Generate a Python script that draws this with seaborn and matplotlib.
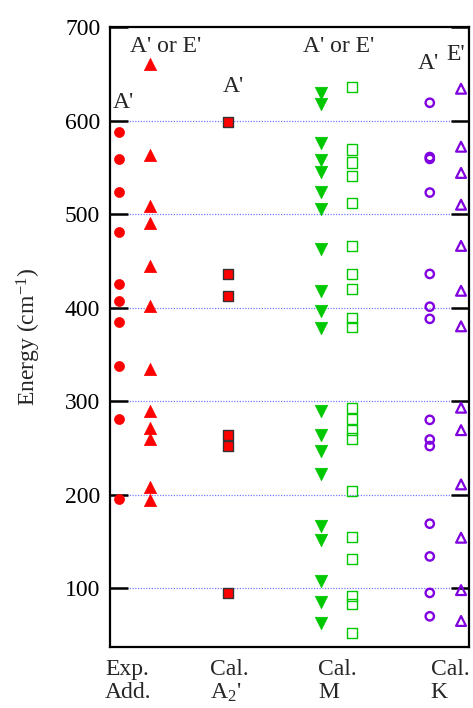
import matplotlib
matplotlib.use("Agg")
import matplotlib.pyplot as plt
import matplotlib.transforms as mtransforms
import seaborn as sns
import pandas as pd

# ---------------- data (energies in cm^-1) ----------------
exp_add_A = [588, 559, 524, 481, 425, 407, 385, 338, 281, 195]
exp_add_AE = [660, 563, 509, 490, 444, 402, 334, 289, 271, 260, 208, 194]
cal_A2_A = [598, 436, 412, 264, 252, 95]
cal_M_tri = [629, 618, 576, 558, 545, 524, 505, 463, 418, 396, 378,
             289, 264, 247, 222, 167, 152, 108, 85, 63]
cal_M_sq = [636, 569, 555, 541, 512, 466, 436, 420, 389, 379,
            293, 281, 269, 260, 204, 155, 131, 92, 83, 52]
cal_K_A = [619, 561, 559, 523, 436, 401, 388, 280, 259, 252, 169, 134, 95, 70]
cal_K_E = [634, 572, 544, 510, 466, 418, 380, 293, 269, 211, 154, 98, 65]

group_labels = ["Exp.\nAdd.", "Cal.\nA$_2$'", "Cal.\nM", "Cal.\nK"]
y_ticks = [100, 200, 300, 400, 500, 600, 700]

# ---------------- style ----------------
sns.set_theme(style="white")
plt.rcParams["font.family"] = ["Liberation Serif", "DejaVu Serif"]
plt.rcParams["mathtext.fontset"] = "custom"
plt.rcParams["mathtext.rm"] = "Liberation Serif"
plt.rcParams["mathtext.it"] = "Liberation Serif:italic"
plt.rcParams["mathtext.bf"] = "Liberation Serif:bold"

RED = "#ff0000"
GREEN = "#00c800"
PURPLE = "#8000e0"

fig = plt.figure(figsize=(4.73, 7.08), dpi=100)
ax = fig.add_axes([110 / 473, 1 - 646.7 / 708, 359.3 / 473, (646.7 - 27) / 708])
ax.set_axisbelow(False)

# column layout (x positions in axis units 0..10)
col_x = [0.26, 1.12, 3.29, 5.87, 6.74, 8.90, 9.77]
label_x = [-0.14, 2.78, 5.79, 8.93]

series = [
    (exp_add_A, dict(marker="o", s=52, color=RED, edgecolor=RED, linewidth=0.5)),
    (exp_add_AE, dict(marker="^", s=78, color=RED, edgecolor=RED, linewidth=0.5)),
    (cal_A2_A, dict(marker="s", s=50, color=RED, edgecolor="#333333", linewidth=1.0)),
    (cal_M_tri, dict(marker="v", s=80, color=GREEN, edgecolor=GREEN, linewidth=0.5)),
    (cal_M_sq, dict(marker="s", s=55, facecolor="none", edgecolor=GREEN, linewidth=1.0)),
    (cal_K_A, dict(marker="o", s=36, facecolor="none", edgecolor=PURPLE, linewidth=1.7)),
    (cal_K_E, dict(marker="^", s=50, facecolor="none", edgecolor=PURPLE, linewidth=1.6)),
]

for xpos, (vals, kw) in zip(col_x, series):
    df = pd.DataFrame({"x": [xpos] * len(vals), "energy": vals})
    sns.scatterplot(data=df, x="x", y="energy", ax=ax, legend=False, zorder=3, **kw)

ax.set_xlim(0, 10)
ax.set_ylim(37.5, 700)

# grid lines
for yv in y_ticks[:-1]:
    ax.axhline(yv, color="#7878ff", linestyle=(0, (1.0, 1.2)), linewidth=0.9, zorder=1)

# ticks
ax.set_yticks(y_ticks)
ax.set_yticklabels([str(v) for v in y_ticks])
ax.tick_params(axis="y", which="both", direction="in", length=13, width=1.8,
               left=True, right=True, labelsize=17, pad=7, colors="black")
ax.set_xticks([])
for sp in ax.spines.values():
    sp.set_color("black")
    sp.set_linewidth(1.6)

ax.set_xlabel("")
ax.set_ylabel("Energy (cm$^{-1}$)", fontsize=17)
ax.yaxis.set_label_coords(-0.186, 0.5)

# group labels below axis
trans = mtransforms.blended_transform_factory(ax.transData, ax.transAxes)
for lx, lab in zip(label_x, group_labels):
    ax.text(lx, -0.02, lab, transform=trans, ha="left", va="top",
            fontsize=17, linespacing=1.1, clip_on=False)

# annotations
ann = [
    (0.08, 613, "A'"),
    (0.56, 673, "A' or E'"),
    (3.14, 630, "A'"),
    (5.38, 673, "A' or E'"),
    (8.56, 655, "A'"),
    (9.37, 665, "E'"),
]
for tx, ty, s in ann:
    ax.text(tx, ty, s, ha="left", va="baseline", fontsize=17, zorder=4)

fig.savefig("out.png", dpi=100)
